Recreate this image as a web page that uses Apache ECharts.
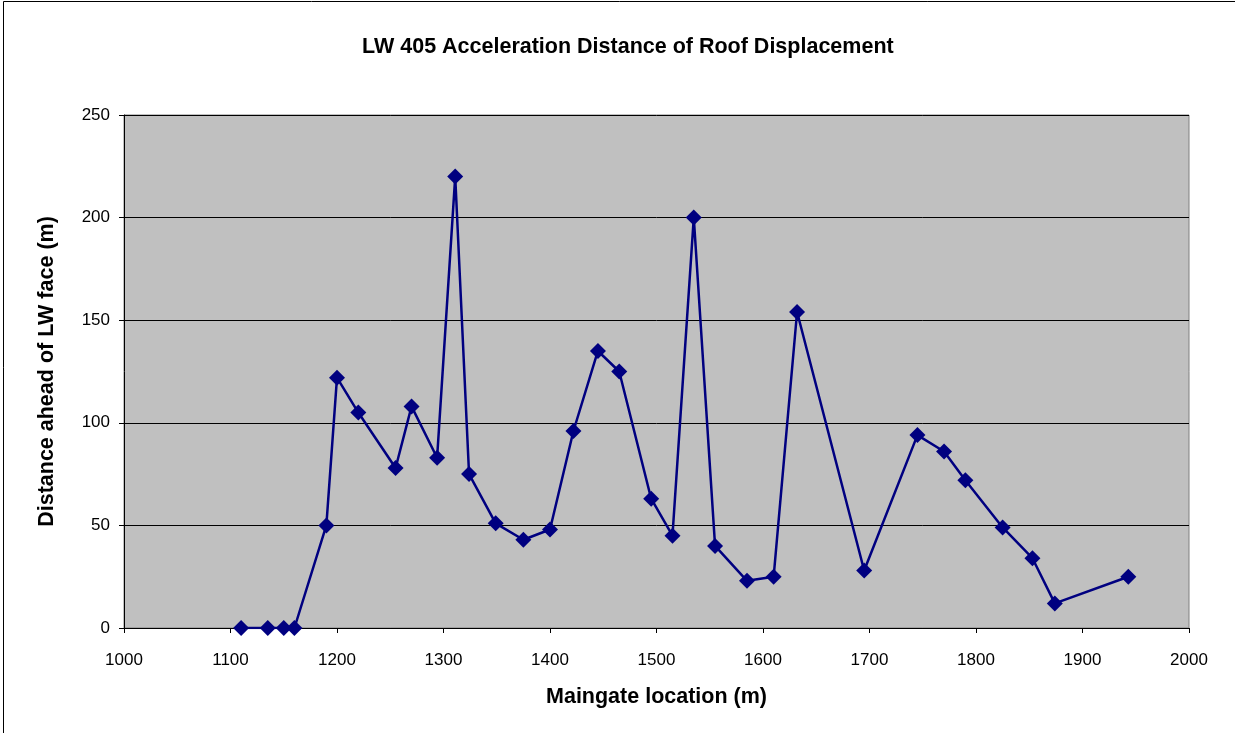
<!DOCTYPE html>
<html><head><meta charset="utf-8">
<script src="https://cdn.jsdelivr.net/npm/echarts@6/dist/echarts.min.js"></script>
<style>html,body{margin:0;padding:0;background:#fff}#c{width:1235px;height:733px}</style>
</head><body><div id="c"></div>
<script>
const maingate = [1110,1135,1150,1160,1190,1200,1220,1255,1270,1294,1311,1324,1349,1375,1400,1422,1445,1465,1495,1515,1535,1555,1585,1610,1632,1695,1745,1770,1790,1825,1853,1874,1943];
const distance = [0,0,0,0,50,122,105,78,108,83,220,75,51,43,48,96,135,125,63,45,200,40,23,25,154,28,94,86,72,49,34,12,25];
const titleText = 'LW 405 Acceleration Distance of Roof Displacement';
const xName = 'Maingate location (m)';
const yName = 'Distance ahead of LW face (m)';

const pts = maingate.map((x,i)=>[x,distance[i]]);
const F = 'Liberation Sans, Arial, sans-serif';
const chart = echarts.init(document.getElementById('c'));
chart.setOption({
  animation:false,
  backgroundColor:'#fff',
  graphic:[{type:'rect',shape:{x:3.5,y:1.5,width:1300,height:800},style:{fill:'none',stroke:'#000',lineWidth:1},silent:true}],
  title:{text:titleText,left:357,top:31,textStyle:{fontFamily:F,fontSize:21.5,fontWeight:'bold',color:'#000'}},
  grid:{left:124,top:115,right:46,bottom:105,show:true,backgroundColor:'#C0C0C0',borderColor:'#808080',borderWidth:1},
  xAxis:{type:'value',min:1000,max:2000,interval:100,
    name:xName,nameLocation:'middle',nameGap:58,
    nameTextStyle:{fontFamily:F,fontSize:21.5,fontWeight:'bold',color:'#000'},
    axisLine:{show:true,lineStyle:{color:'#000',width:1}},
    axisTick:{show:true,inside:false,length:5,lineStyle:{color:'#000'}},
    axisLabel:{margin:24,fontFamily:F,fontSize:17,color:'#000',formatter:v=>String(v)},
    splitLine:{show:false}},
  yAxis:{type:'value',min:0,max:250,interval:50,
    name:yName,nameLocation:'middle',nameGap:66,
    nameTextStyle:{fontFamily:F,fontSize:21.5,fontWeight:'bold',color:'#000'},
    axisLine:{show:true,lineStyle:{color:'#000',width:1}},
    axisTick:{show:true,inside:false,length:5,lineStyle:{color:'#000'}},
    axisLabel:{margin:14,fontFamily:F,fontSize:17,color:'#000',formatter:v=>String(v)},
    splitLine:{show:true,lineStyle:{color:'#000',width:1}}},
  series:[{type:'line',data:pts,symbol:'diamond',symbolSize:16,
    lineStyle:{color:'#000080',width:2.5},itemStyle:{color:'#000080'}}]
});
</script></body></html>
